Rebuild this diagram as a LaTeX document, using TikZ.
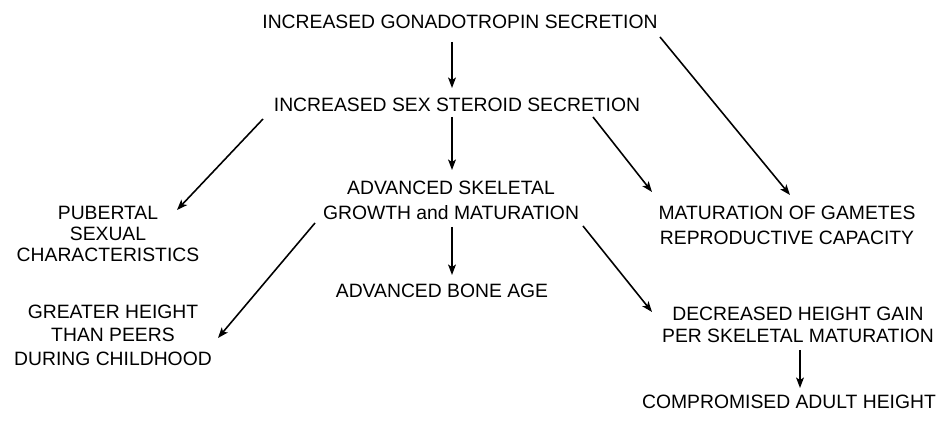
\documentclass[tikz,border=0pt]{standalone}
\usepackage{fontspec}
\setmainfont{Liberation Sans}
\usetikzlibrary{arrows.meta}
\usetikzlibrary{calc}

\tikzset{
  lbl/.style={align=center, inner sep=0pt, font=\fontsize{11}{13}\selectfont},
  arr/.style={-{Stealth[length=6pt, width=4.5pt, inset=1.5pt]}, line width=0.9pt}
}

\begin{document}
\begin{tikzpicture}[x=0.02cm, y=-0.02cm]
    \useasboundingbox (0,0) rectangle (951,421);

    \node[lbl] (gon) at (460,22) {INCREASED GONADOTROPIN SECRETION};
    \node[lbl] (sex) at (457,105) {INCREASED SEX STEROID SECRETION};
    \node[lbl, font=\fontsize{11}{14.2}\selectfont] (skel) at (451,200) {ADVANCED SKELETAL\\GROWTH and MATURATION};
    \node[lbl] (bone) at (442,291) {ADVANCED BONE AGE};
    \node[lbl, font=\fontsize{11}{12}\selectfont] (pub) at (108,234) {PUBERTAL\\SEXUAL\\CHARACTERISTICS};
    \node[lbl, font=\fontsize{11}{13.3}\selectfont] (tall) at (113,335) {GREATER HEIGHT\\THAN PEERS\\DURING CHILDHOOD};
    \node[lbl, font=\fontsize{11}{14.2}\selectfont] (gam) at (787,225) {MATURATION OF GAMETES\\REPRODUCTIVE CAPACITY};
    \node[lbl, font=\fontsize{11}{12.5}\selectfont] (dec) at (798,325) {DECREASED HEIGHT GAIN\\PER SKELETAL MATURATION};
    \node[lbl] (comp) at (789,402) {COMPROMISED ADULT HEIGHT};

    \draw[arr] ($(gon)+(-8,20)$) -- ($(sex)+(-5,-17)$);
    \draw[arr] ($(gon)+(200,15)$) -- ($(gam)+(3,-30)$);
    \draw[arr] ($(sex)+(-194,14)$) -- ($(pub)+(69,-24)$);
    \draw[arr] ($(sex)+(-5,12)$) -- ($(skel)+(1,-30)$);
    \draw[arr] ($(sex)+(136,12)$) -- ($(gam)+(-135,-33)$);
    \draw[arr] ($(skel)+(1,27)$) -- ($(bone)+(10,-16)$);
    \draw[arr] ($(skel)+(-136,23)$) -- ($(tall)+(105,3)$);
    \draw[arr] ($(skel)+(132,26)$) -- ($(dec)+(-146,-13)$);
    \draw[arr] ($(dec)+(2,25)$) -- ($(comp)+(11,-14)$);
\end{tikzpicture}
\end{document}
